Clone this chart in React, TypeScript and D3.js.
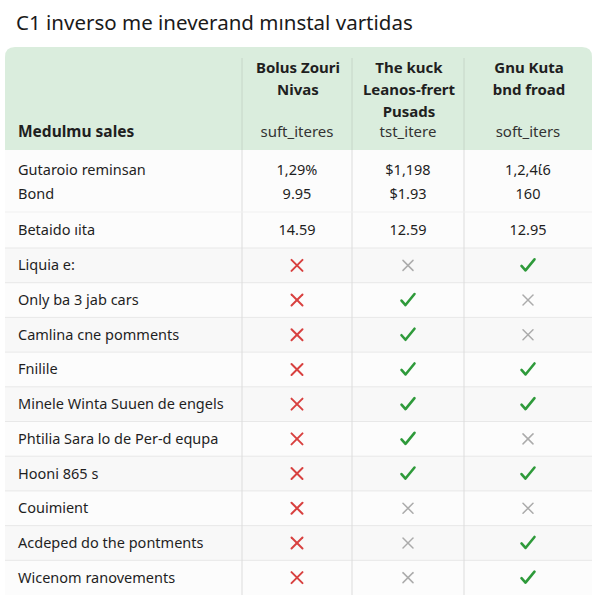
import React from 'react';
import * as d3 from 'd3';

const title = 'C1 inverso me ineverand mınstal vartidas';
const cornerLabel = 'Medulmu sales';

const columnNames = [
  ['Bolus Zouri', 'Nivas'],
  ['The kuck', 'Leanos-frert', 'Pusads'],
  ['Gnu Kuta', 'bnd froad'],
];
const columnSubs = ['suft_iteres', 'tst_itere', 'soft_iters'];

const numericLabels = ['Gutaroio reminsan', 'Bond', 'Betaido ıita'];
const numericValues = [
  ['1,29%', '$1,198', '1,2,4ί6'],
  ['9.95', '$1.93', '160'],
  ['14.59', '12.59', '12.95'],
];

const featureLabels = [
  'Liquiа e:',
  'Only ba 3 jab cars',
  'Camlina cne pomments',
  'Fnilile',
  'Minele Winta Suuen de engels',
  'Phtilia Sara lo de Per-d equpa',
  'Hooni 865 s',
  'Couimient',
  'Acdeped do the pontments',
  'Wicenom ranovements',
];
// 'no' = red cross, 'na' = grey cross, 'yes' = green tick
const col1Status = ['no', 'no', 'no', 'no', 'no', 'no', 'no', 'no', 'no', 'no'];
const col2Status = ['na', 'yes', 'yes', 'yes', 'yes', 'yes', 'yes', 'na', 'na', 'na'];
const col3Status = ['yes', 'na', 'na', 'yes', 'yes', 'na', 'yes', 'na', 'yes', 'yes'];

const W = 600;
const H = 600;
const FONT = '"Noto Sans", "Open Sans", sans-serif';

// column edges: label column, then the three compared columns
const edges = [5, 242, 352, 464, 592];
const headerTop = 47;
const headerBottom = 150;
const tableBottom = 595;

const Mark = ({ kind }: { kind: string }) => {
  if (kind === 'yes') {
    return (
      <path d="M-6.5,0.5 L-2.5,5 L6.5,-6" fill="none" stroke="#2e9a3a" strokeWidth={2.6}
        strokeLinecap="round" strokeLinejoin="round" />
    );
  }
  const r = kind === 'no' ? 5.5 : 5;
  return (
    <g stroke={kind === 'no' ? '#d8403f' : '#ababab'} strokeWidth={kind === 'no' ? 2 : 1.5} strokeLinecap="round">
      <line x1={-r} y1={-r} x2={r} y2={r} />
      <line x1={-r} y1={r} x2={r} y2={-r} />
    </g>
  );
};

export default function App() {
  const colCenter = (i: number) => (edges[i + 1] + edges[i + 2]) / 2;

  const featureY = d3.scaleBand<string>()
    .domain(featureLabels)
    .range([248, tableBottom]);

  const numericY = d3.scaleOrdinal<string, number>()
    .domain(numericLabels)
    .range([170, 194, 230]);

  const statuses = [col1Status, col2Status, col3Status];
  const headerLineY = d3.scaleLinear().domain([0, 1]).range([68, 90]);

  const r = 10;
  const headerPath = `M${edges[0]},${headerBottom} L${edges[0]},${headerTop + r} Q${edges[0]},${headerTop} ${edges[0] + r},${headerTop}
    L${edges[4] - r},${headerTop} Q${edges[4]},${headerTop} ${edges[4]},${headerTop + r} L${edges[4]},${headerBottom} Z`;

  return (
    <svg width={W} height={H} style={{ position: 'absolute', left: 0, top: 0, background: '#fff' }}
      fontFamily={FONT}>
      <text x={16} y={30} fontSize={20.5} fill="#1a1a1a">{title}</text>

      {/* body background */}
      <rect x={edges[0]} y={headerBottom} width={edges[4] - edges[0]} height={tableBottom - headerBottom} fill="#fcfcfc" />
      {featureLabels.map((f, i) => i % 2 === 0 ? (
        <rect key={f} x={edges[0]} y={featureY(f)} width={edges[4] - edges[0]} height={featureY.bandwidth()} fill="#f8f8f8" />
      ) : null)}

      {/* header */}
      <path d={headerPath} fill="#daeddd" />

      {/* row separators */}
      {featureLabels.map((f) => (
        <line key={f} x1={edges[0]} x2={edges[4]} y1={featureY(f)} y2={featureY(f)} stroke="#e8e8e8" strokeWidth={1} />
      ))}

      {/* vertical dividers */}
      {edges.slice(1, 4).map((x) => (
        <g key={x}>
          <line x1={x} x2={x} y1={58} y2={headerBottom} stroke="#c6d6c8" strokeWidth={1} />
          <line x1={x} x2={x} y1={headerBottom} y2={tableBottom} stroke="#dcdcdc" strokeWidth={1} />
        </g>
      ))}

      {/* header text */}
      <text x={18} y={137} fontSize={15.5} fontWeight={700} fill="#1f1f1f">{cornerLabel}</text>
      {columnNames.map((lines, ci) => (
        <g key={ci}>
          {lines.map((l, li) => (
            <text key={l} x={colCenter(ci) + 1} y={headerLineY(li) + 5} fontSize={15} fontWeight={700}
              fill="#1f1f1f" textAnchor="middle">{l}</text>
          ))}
          <text x={colCenter(ci)} y={137} fontSize={15} fill="#333" textAnchor="middle">{columnSubs[ci]}</text>
        </g>
      ))}

      {/* numeric rows */}
      {numericLabels.map((lab, ri) => (
        <g key={lab}>
          <text x={18} y={numericY(lab) + 5} fontSize={14.5} fill="#1f1f1f">{lab}</text>
          {numericValues[ri].map((v, ci) => (
            <text key={ci} x={colCenter(ci)} y={numericY(lab) + 5} fontSize={14.5} fill="#1f1f1f"
              textAnchor="middle">{v}</text>
          ))}
        </g>
      ))}
      <line x1={edges[0]} x2={edges[4]} y1={212} y2={212} stroke="#f0f0f0" />

      {/* feature rows */}
      {featureLabels.map((lab, ri) => {
        const cy = (featureY(lab) as number) + featureY.bandwidth() / 2;
        return (
          <g key={lab}>
            <text x={18} y={cy + 5} fontSize={14.5} fill="#1f1f1f">{lab}</text>
            {statuses.map((s, ci) => (
              <g key={ci} transform={`translate(${colCenter(ci)},${cy})`}>
                <Mark kind={s[ri]} />
              </g>
            ))}
          </g>
        );
      })}
    </svg>
  );
}
